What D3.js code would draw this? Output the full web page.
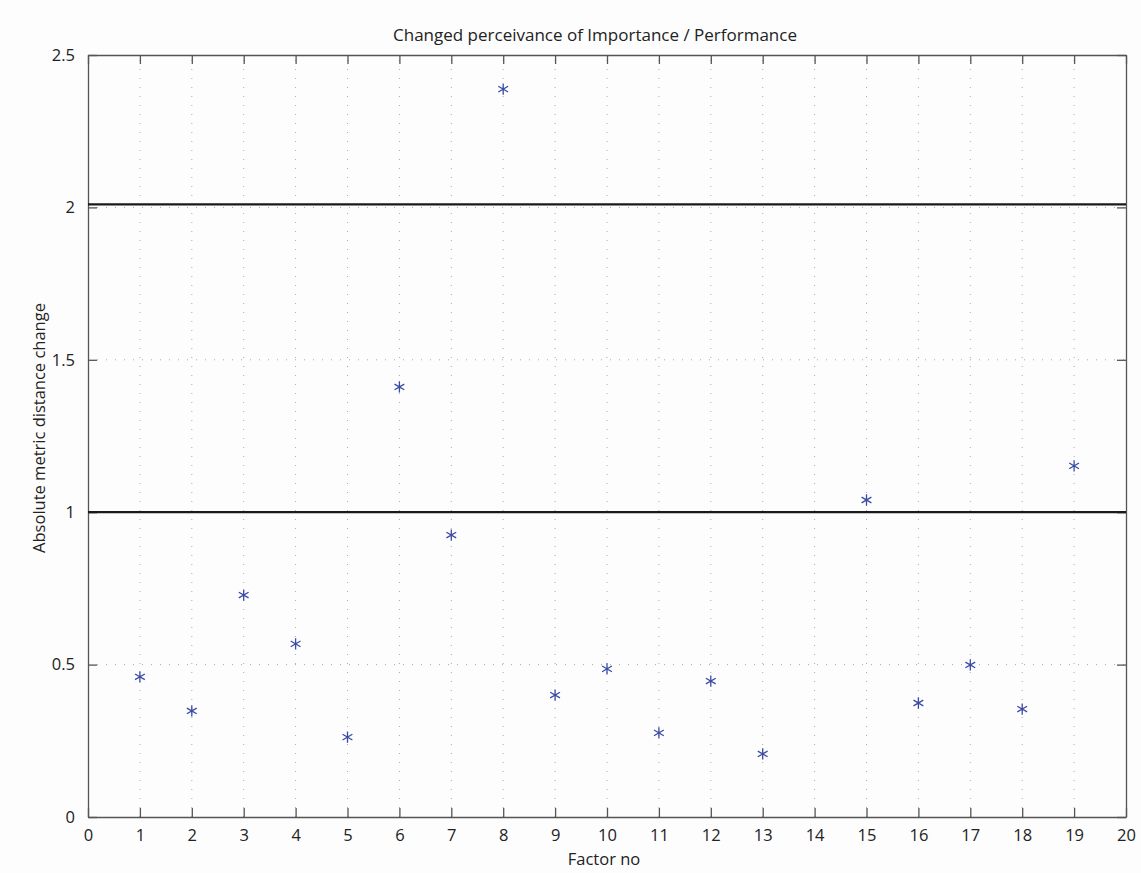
<!DOCTYPE html>
<html>
<head>
<meta charset="utf-8">
<script src="https://cdn.jsdelivr.net/npm/d3@7"></script>
<style>
  body { margin: 0; background: #fdfdfd; }
  text { font-family: "Open Sans", "Noto Sans", sans-serif; fill: #222; }
</style>
</head>
<body>
<svg id="chart" width="1141" height="873"></svg>
<script>
// data
const factors = [1, 2, 3, 4, 5, 6, 7, 8, 9, 10, 11, 12, 13, 15, 16, 17, 18, 19]
const distChange = [0.46, 0.348, 0.728, 0.568, 0.262, 1.411, 0.925, 2.388, 0.40, 0.486,
  0.276, 0.446, 0.207, 1.04, 0.374, 0.499, 0.354, 1.152]
const thresholds = [1, 2.01]
const xTicks = d3.range(0, 21)
const yTicks = [0, 0.5, 1, 1.5, 2, 2.5]

const margin = { top: 55, right: 15, bottom: 56, left: 88 }
const width = 1141, height = 873

const svg = d3.select("#chart")

const x = d3.scaleLinear().domain([0, 20]).range([margin.left, width - margin.right])
const y = d3.scaleLinear().domain([0, 2.5]).range([height - margin.bottom, margin.top])

// dotted grid
svg.append("g").selectAll("line")
  .data(xTicks.slice(1, -1))
  .join("line")
  .attr("x1", d => x(d)).attr("x2", d => x(d))
  .attr("y1", y(0)).attr("y2", y(2.5))
  .attr("stroke", "#aaa").attr("stroke-width", 1)
  .attr("stroke-dasharray", "1,8")

svg.append("g").selectAll("line")
  .data(yTicks.slice(1, -1))
  .join("line")
  .attr("x1", x(0)).attr("x2", x(20))
  .attr("y1", d => y(d)).attr("y2", d => y(d))
  .attr("stroke", "#aaa").attr("stroke-width", 1)
  .attr("stroke-dasharray", "1,8")

// axes, ticks inside
const axisStyle = g => {
  g.select(".domain").attr("stroke", "#555").attr("stroke-width", 1.3)
  g.selectAll(".tick line").attr("stroke", "#555").attr("stroke-width", 1.3)
  g.selectAll("text").style("font-size", "16.5px").attr("fill", "#222")
}

svg.append("g")
  .attr("transform", `translate(0,${y(0)})`)
  .call(d3.axisBottom(x).tickValues(xTicks).tickSize(-9).tickPadding(12).tickSizeOuter(0))
  .call(axisStyle)

svg.append("g")
  .attr("transform", `translate(0,${y(2.5)})`)
  .call(d3.axisTop(x).tickValues(xTicks).tickSize(-9).tickFormat("").tickSizeOuter(0))
  .call(axisStyle)

svg.append("g")
  .attr("transform", `translate(${x(0)},0)`)
  .call(d3.axisLeft(y).tickValues(yTicks).tickSize(-9).tickPadding(13).tickSizeOuter(0)
    .tickFormat(d3.format("~g")))
  .call(axisStyle)

svg.append("g")
  .attr("transform", `translate(${x(20)},0)`)
  .call(d3.axisRight(y).tickValues(yTicks).tickSize(-9).tickFormat("").tickSizeOuter(0))
  .call(axisStyle)

// threshold lines
svg.append("g").selectAll("line")
  .data(thresholds)
  .join("line")
  .attr("x1", x(0)).attr("x2", x(20))
  .attr("y1", d => y(d)).attr("y2", d => y(d))
  .attr("stroke", "#1a1a1a").attr("stroke-width", 2.2)

// asterisk markers
const star = d3.symbol().type(d3.symbolAsterisk).size(90)
svg.append("g").selectAll("path")
  .data(factors)
  .join("path")
  .attr("transform", (d, i) => `translate(${x(d)},${y(distChange[i])})`)
  .attr("d", star)
  .attr("fill", "none")
  .attr("stroke", "#3b4ba3")
  .attr("stroke-width", 1.3)

// labels
svg.append("text")
  .attr("x", 595).attr("y", 41)
  .attr("text-anchor", "middle")
  .style("font-size", "17px")
  .text("Changed perceivance of Importance / Performance")

svg.append("text")
  .attr("x", 604).attr("y", 865)
  .attr("text-anchor", "middle")
  .style("font-size", "16.5px")
  .text("Factor no")

svg.append("text")
  .attr("transform", "translate(45,428) rotate(-90)")
  .attr("text-anchor", "middle")
  .style("font-size", "16.5px")
  .text("Absolute metric distance change")
</script>
</body>
</html>
